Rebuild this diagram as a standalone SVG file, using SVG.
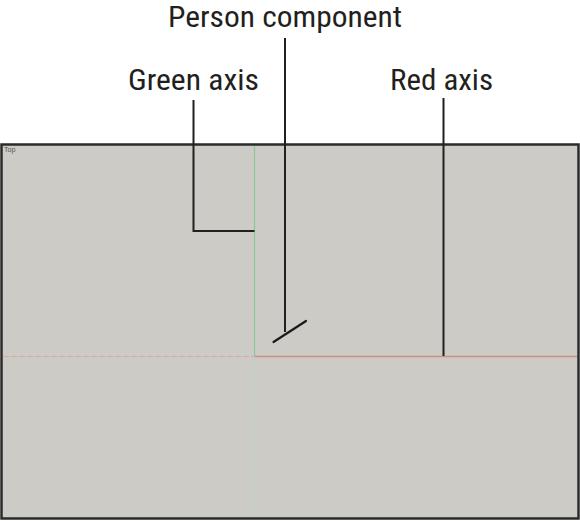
<svg xmlns="http://www.w3.org/2000/svg" width="580" height="521" viewBox="0 0 580 521">
<style>
.lbl{font-family:"Liberation Sans Narrow","Roboto Condensed","Liberation Sans",sans-serif;font-size:29px;fill:#231f20;text-anchor:middle}
.lead{stroke:#231f20;stroke-width:2;fill:none}
</style>
<rect width="580" height="521" fill="#ffffff"/>
<g id="viewport">
<rect x="1.5" y="144.5" width="577" height="374" fill="#cccbc6" stroke="#2a2a2a" stroke-width="2.5"/>
<text x="4" y="152" font-family="Liberation Sans,sans-serif" font-size="7" fill="#555">Top</text>
</g>
<g id="axes">
<line x1="254.5" y1="146" x2="254.5" y2="356.5" stroke="#8fc59a" stroke-width="1.2"/>
<line x1="254.5" y1="356.5" x2="254.5" y2="517" stroke="#bcd3c2" stroke-width="1.2" stroke-dasharray="3,2"/>
<line x1="254.5" y1="356.5" x2="577" y2="356.5" stroke="#cf8f87" stroke-width="1.5"/>
<line x1="3" y1="356.5" x2="254.5" y2="356.5" stroke="#d7aaa5" stroke-width="1.2" stroke-dasharray="6,2"/>
</g>
<g id="person-component">
<line x1="273.5" y1="342" x2="306" y2="321" stroke="#1a1a1a" stroke-width="2.2" stroke-linecap="round"/>
</g>
<g id="connectors">
<polyline class="lead" points="193.5,100 193.5,231 254.5,231"/>
<line class="lead" x1="285" y1="38" x2="285" y2="332"/>
<line class="lead" x1="443.5" y1="98" x2="443.5" y2="356"/>
</g>
<g id="label-person">
<text class="lbl" x="285" y="27" textLength="234" lengthAdjust="spacingAndGlyphs">Person component</text>
</g>
<g id="label-green">
<text class="lbl" x="193.5" y="90" textLength="131" lengthAdjust="spacingAndGlyphs">Green axis</text>
</g>
<g id="label-red">
<text class="lbl" x="441.5" y="90" textLength="103" lengthAdjust="spacingAndGlyphs">Red axis</text>
</g>
</svg>
